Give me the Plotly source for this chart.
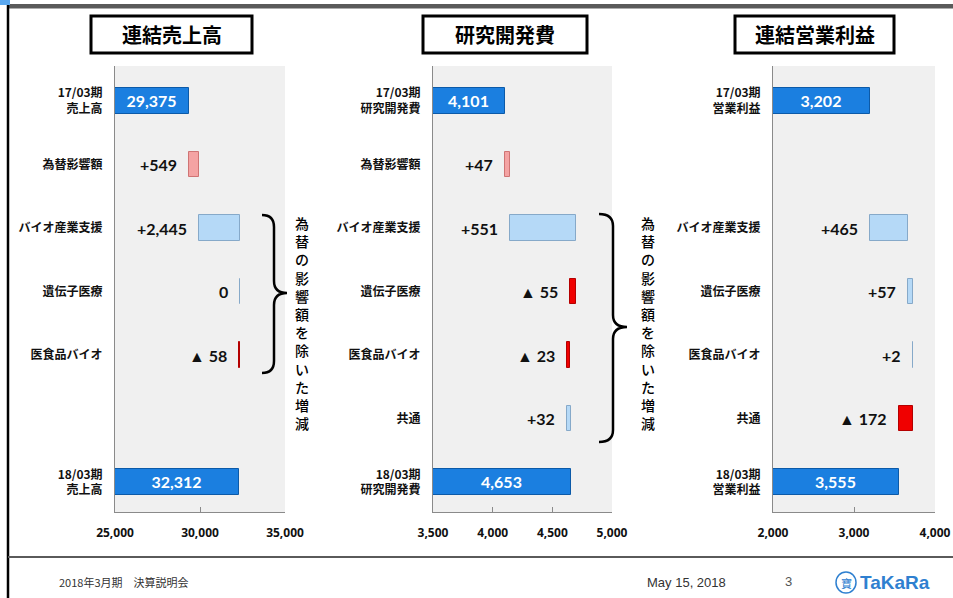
import plotly.graph_objects as go

W, H = 953, 598

# ---- data ----
sales_labels = ["17/03期<br>売上高", "為替影響額", "バイオ産業支援", "遺伝子医療", "医食品バイオ", "", "18/03期<br>売上高"]
sales_values = [29375, 549, 2445, 0, -58, None, 32312]

rd_labels = ["17/03期<br>研究開発費", "為替影響額", "バイオ産業支援", "遺伝子医療", "医食品バイオ", "共通", "18/03期<br>研究開発費"]
rd_values = [4101, 47, 551, -55, -23, 32, 4653]

op_labels = ["17/03期<br>営業利益", "", "バイオ産業支援", "遺伝子医療", "医食品バイオ", "共通", "18/03期<br>営業利益"]
op_values = [3202, None, 465, 57, 2, -172, 3555]

row_kind = ["total", "fx", "delta", "delta", "delta", "delta", "total"]

titles = ["連結売上高", "研究開発費", "連結営業利益"]
x_ranges = [[25000, 35000], [3500, 5000], [2000, 4000]]
x_ticks = [[25000, 30000, 35000], [3500, 4000, 4500, 5000], [2000, 3000, 4000]]
brace_note = "為替の影響額を除いた増減"

footer_left = "2018年3月期　決算説明会"
footer_date = "May 15, 2018"
page_no = "3"

# ---- style ----
BLUE, BLUE_LINE = "#1b7fe0", "#0c5aa8"
LIGHT, LIGHT_LINE = "#b5d9f7", "#86a9c9"
PINK, PINK_LINE = "#f4a3a3", "#cf7474"
RED, RED_LINE = "#f00000", "#b40000"
JP = "Noto Sans CJK JP"

panels_px = [(115, 285), (433, 612), (773, 935)]  # plot x extents in pixels
title_boxes = [(91, 252), (423, 587), (735, 894)]
PLOT_TOP, PLOT_BOT = 66, 512


def px(x):
    return x / W


def py(y):
    return 1 - y / H


def note(x, y, text, font, xanchor="center", yanchor="middle"):
    return dict(x=px(x), y=py(y), xref="paper", yref="paper", text=text,
                showarrow=False, xanchor=xanchor, yanchor=yanchor, font=font)


fig = go.Figure()
annotations = []
shapes = []

for i, (labels, values) in enumerate([(sales_labels, sales_values),
                                       (rd_labels, rd_values),
                                       (op_labels, op_values)]):
    xa = "x" if i == 0 else f"x{i + 1}"
    ya = "y" if i == 0 else f"y{i + 1}"
    lo = x_ranges[i][0]
    bases, lengths, colors, lines, texts = [], [], [], [], []
    running = values[0]
    for r, (v, kind) in enumerate(zip(values, row_kind)):
        if v is None:
            bases.append(None); lengths.append(None)
            colors.append(LIGHT); lines.append(LIGHT_LINE); texts.append("")
            continue
        if kind == "total":
            bases.append(lo); lengths.append(v - lo)
            colors.append(BLUE); lines.append(BLUE_LINE); texts.append(f"{v:,}")
            continue
        start = running
        running += v
        bases.append(start); lengths.append(v)
        if kind == "fx":
            colors.append(PINK); lines.append(PINK_LINE)
        elif v >= 0:
            colors.append(LIGHT); lines.append(LIGHT_LINE)
        else:
            colors.append(RED); lines.append(RED_LINE)
        texts.append("")
        if v > 0:
            lab = f"+{v:,}"
        elif v < 0:
            lab = f"▲ {-v:,}"
        else:
            lab = "0"
        annotations.append(dict(
            x=min(start, running), y=r, xref=xa, yref=ya, text=f"<b>{lab}</b>",
            showarrow=False, xanchor="right", yanchor="middle", xshift=-10,
            font=dict(family="Lato, Open Sans", size=16, color="#111")))

    fig.add_trace(go.Bar(
        orientation="h", y=list(range(len(values))), x=lengths, base=bases,
        width=0.4, xaxis=xa, yaxis=ya,
        marker=dict(color=colors, line=dict(color=lines, width=1)),
        text=texts, textposition="inside", insidetextanchor="middle",
        textangle=0, constraintext="none", cliponaxis=False,
        textfont=dict(family="Lato, Open Sans", size=16, color="white", weight="bold"),
        hoverinfo="skip", showlegend=False))

    x0, x1 = panels_px[i]
    fig.layout[("xaxis" if i == 0 else f"xaxis{i + 1}")] = dict(
        domain=[px(x0), px(x1)], range=x_ranges[i], anchor=ya, automargin=False,
        tickvals=x_ticks[i], tickformat=",d", showgrid=False, zeroline=False,
        showline=True, linecolor="#8a8a8a", linewidth=1,
        ticks="inside", ticklen=5, tickcolor="#8a8a8a",
        ticklabelstandoff=10,
        tickfont=dict(family="Open Sans", size=12, color="#111", weight="bold"))
    fig.layout[("yaxis" if i == 0 else f"yaxis{i + 1}")] = dict(
        domain=[py(PLOT_BOT), py(PLOT_TOP)], range=[6.47, -0.55], anchor=xa,
        automargin=False,
        tickvals=list(range(len(labels))), ticktext=labels,
        showgrid=False, zeroline=False, showline=True,
        linecolor="#8a8a8a", linewidth=1, ticks="", ticklabelstandoff=9,
        tickfont=dict(family=JP, size=12, color="#111", weight="bold"))

    # title box
    bx0, bx1 = title_boxes[i]
    shapes.append(dict(type="rect", xref="paper", yref="paper",
                       x0=px(bx0), x1=px(bx1), y0=py(53), y1=py(16),
                       line=dict(color="black", width=3), fillcolor="white"))
    annotations.append(note((bx0 + bx1) / 2, 34.5, titles[i],
                            dict(family=JP, size=20, color="black", weight=700)))


# curly braces
def brace(x0, xv, xt, yt, ym, yb, r=12):
    pts = [
        f"M {px(x0)},{py(yt)}",
        f"Q {px(xv)},{py(yt)} {px(xv)},{py(yt + r)}",
        f"L {px(xv)},{py(ym - r)}",
        f"Q {px(xv)},{py(ym)} {px(xt)},{py(ym)}",
        f"Q {px(xv)},{py(ym)} {px(xv)},{py(ym + r)}",
        f"L {px(xv)},{py(yb - r)}",
        f"Q {px(xv)},{py(yb)} {px(x0)},{py(yb)}",
    ]
    return dict(type="path", xref="paper", yref="paper", path=" ".join(pts),
                line=dict(color="black", width=2.5))


shapes.append(brace(262, 274, 287, 215, 293, 373))
shapes.append(brace(599, 613, 627, 214, 327, 442))

# vertical note: one character per line
for cx in (302, 648):
    annotations.append(note(cx, 323, "<br>".join(brace_note),
                            dict(family=JP, size=14, color="black", weight=500)))

# slide frame
shapes += [
    dict(type="rect", xref="paper", yref="paper", x0=px(9), x1=1, y0=py(8.5), y1=py(4),
         line=dict(width=0), fillcolor="#5a5a5a"),
    dict(type="rect", xref="paper", yref="paper", x0=0, x1=px(10), y0=py(5), y1=1,
         line=dict(width=0), fillcolor="#5aa8f0"),
    dict(type="line", xref="paper", yref="paper", x0=px(8), x1=px(8), y0=0, y1=py(5),
         line=dict(color="black", width=2.5)),
    dict(type="line", xref="paper", yref="paper", x0=px(8), x1=1, y0=py(557), y1=py(557),
         line=dict(color="#5a5a5a", width=2)),
    dict(type="circle", xref="paper", yref="paper", x0=px(836), x1=px(856), y0=py(593), y1=py(572),
         line=dict(color="#2f80d0", width=1.5)),
]

annotations += [
    note(57, 582, footer_left, dict(family=JP, size=11, color="#333"), xanchor="left"),
    note(686, 582, footer_date,
         dict(family="Liberation Sans Narrow, Liberation Sans", size=13, color="#333")),
    note(788, 581, page_no, dict(family="Liberation Sans", size=13, color="#555")),
    note(846, 582.5, "寶", dict(family=JP, size=11, color="#2f80d0")),
    note(858, 582, "<b>TaKaRa</b>",
         dict(family="Liberation Sans Narrow, Liberation Sans", size=19, color="#2f80d0"),
         xanchor="left"),
]

fig.update_layout(
    width=W, height=H, margin=dict(l=0, r=0, t=0, b=0, autoexpand=False),
    paper_bgcolor="white", plot_bgcolor="#f0f0f0",
    bargap=0, shapes=shapes, annotations=annotations,
)

# the page's default body margin would shift the slide by 8px
fig.write_html("out.html", config={"displayModeBar": False},
               post_script="document.body.style.margin = '0';")
